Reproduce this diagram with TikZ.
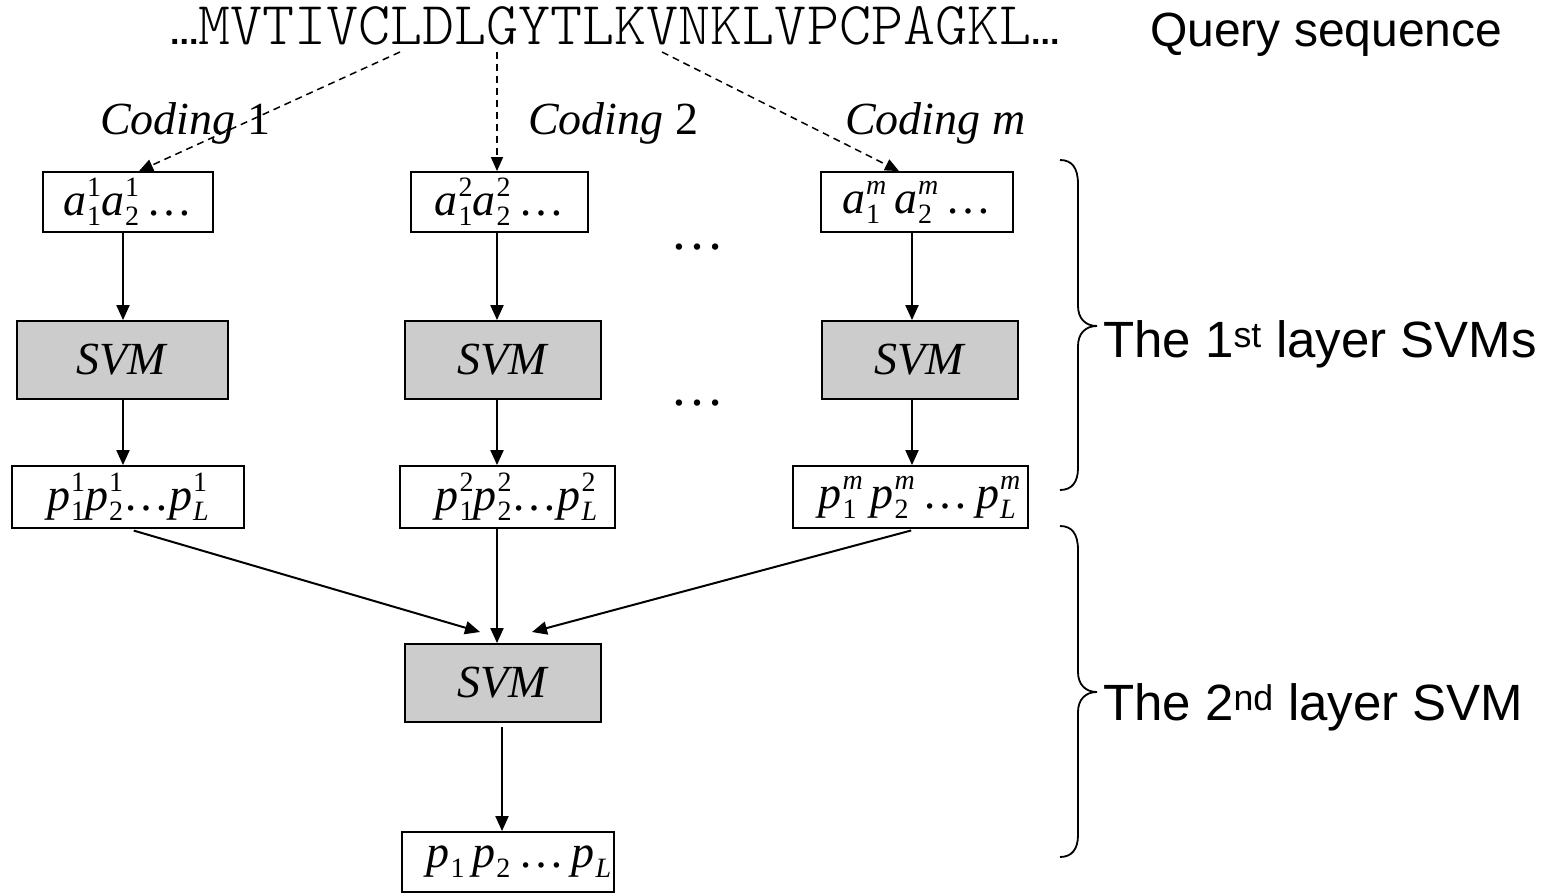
\documentclass[tikz,border=0pt]{standalone}
\usepackage{fontspec}
\setmainfont{Liberation Serif}
\setsansfont{Liberation Sans}
\newfontfamily\seqfont{lmmonolt10-regular.otf}
\usetikzlibrary{arrows.meta}
\definecolor{svmgray}{HTML}{CCCCCC}
\newcommand\tfs{\fontsize{46}{52}\selectfont}
\newcommand\scr{\fontsize{28}{28}\selectfont}
% letter with stacked subscript (#2) and superscript (#3)
\newcommand\ssb[3]{\textit{#1}\kern1pt\raisebox{-10pt}{\scr\vbox{\baselineskip=29pt\lineskiplimit=-20pt\hbox{#3}\hbox{#2}}}}
\newcommand\sbo[2]{\textit{#1}\kern1pt\raisebox{-10pt}{\scr #2}}
\newcommand\qdots{{\sffamily\bfseries\fontsize{34}{40}\selectfont ...}}
\begin{document}
\begin{tikzpicture}[x=1pt,y=-1pt,
  box/.style={draw, line width=1.8pt, inner sep=0pt, font=\tfs},
  svmbox/.style={box, fill=svmgray},
  arr/.style={line width=2pt, -{Triangle[length=15pt,width=13pt]}},
  darr/.style={line width=1.5pt, dash pattern=on 7pt off 5pt, -{Triangle[length=14pt,width=12pt]}},
  lbl/.style={font=\tfs, anchor=base west, inner sep=0pt},
  side/.style={font=\fontsize{51}{60}\selectfont\sffamily, anchor=base west, inner sep=0pt},
  brace/.style={line width=1.8pt},
]
\useasboundingbox (0,0) rectangle (1565,893);

% query sequence
\node[anchor=base west, inner sep=0pt] (seq) at (170,45)
  {\qdots{\seqfont\fontsize{61}{66}\selectfont MVTIVCLDLGYTLKVNKLVPCPAGKL}\qdots};
\node[anchor=base west, inner sep=0pt, font=\fontsize{48}{56}\selectfont\sffamily] (qs) at (1150,47) {Query sequence};

% coding labels
\node[lbl] (cod1) at (100,135) {\textit{Coding} 1};
\node[lbl] (cod2) at (528,135) {\textit{Coding} 2};
\node[lbl] (codm) at (845,135) {\textit{Coding m}};

% column x positions
\coordinate (c1) at (123,0);
\coordinate (c2) at (497,0);
\coordinate (c3) at (912,0);
\coordinate (cF) at (502,0);

% first row boxes
\node[box, minimum width=170, minimum height=60] (a1) at (128,202) {\ssb{a}{1}{1}\ssb{a}{2}{1}\,…};
\node[box, minimum width=177, minimum height=60] (a2) at (499.5,202) {\ssb{a}{1}{2}\ssb{a}{2}{2}\,…};
\node[box, minimum width=192, minimum height=60] (am) at (917,202) {\ssb{a}{1}{\textit{m}}\,\ssb{a}{2}{\textit{m}}\,…};

% SVM boxes
\node[svmbox, minimum width=211, minimum height=78] (S1) at (122.5,360) {\textit{SVM}};
\node[svmbox, minimum width=196, minimum height=78] (S2) at (503,360) {\textit{SVM}};
\node[svmbox, minimum width=196, minimum height=78] (S3) at (920,360) {\textit{SVM}};

% output boxes
\node[box, minimum width=232, minimum height=62] (p1) at (128,497) {\ssb{p}{1}{1}\ssb{p}{2}{1}…\ssb{p}{\textit{L}}{1}};
\node[box, minimum width=215, minimum height=62] (p2) at (507.5,497) {\hspace{18pt}\ssb{p}{1}{2}\ssb{p}{2}{2}…\ssb{p}{\textit{L}}{2}};
\node[box, minimum width=235, minimum height=62] (pm) at (910.5,497) {\hspace{18pt}\ssb{p}{1}{\textit{m}}\,\ssb{p}{2}{\textit{m}}\,…\,\ssb{p}{\textit{L}}{\textit{m}}};

% second layer
\node[svmbox, minimum width=196, minimum height=78] (SF) at (503,683) {\textit{SVM}};
\node[box, minimum width=212, minimum height=60] (pF) at (508,862) {\hspace{22pt}\sbo{p}{1}\,\sbo{p}{2}\,…\,\sbo{p}{\textit{L}}};

% ellipses between columns
\node[font=\fontsize{54}{60}\selectfont, inner sep=0pt, anchor=base] (e1) at (697,250) {…};
\node[font=\fontsize{54}{60}\selectfont, inner sep=0pt, anchor=base] (e2) at (697,405) {…};

% dashed arrows from the sequence
\coordinate (d1) at (400,52);
\coordinate (d2) at (497,52);
\coordinate (d3) at (662,52);
\draw[darr] (d1) -- (a1.north -| 139,0);
\draw[darr] (d2) -- (a2.north -| d2);
\draw[darr] (d3) -- (am.north -| 899,0);

% vertical arrows
\draw[arr] (a1.south -| c1) -- (S1.north -| c1);
\draw[arr] (a2.south -| c2) -- (S2.north -| c2);
\draw[arr] (am.south -| c3) -- (S3.north -| c3);
\draw[arr] (S1.south -| c1) -- (p1.north -| c1);
\draw[arr] (S2.south -| c2) -- (p2.north -| c2);
\draw[arr] (S3.south -| c3) -- (pm.north -| c3);

% into the 2nd layer
\coordinate (inL) at (480,632);
\coordinate (inR) at (532,632);
\draw[arr, shorten <=6pt] (p1.south) -- (inL);
\draw[arr] (p2.south -| c2) -- (SF.north -| c2);
\draw[arr, shorten <=6pt] (pm.south -| 917,0) -- (inR);
\draw[arr, shorten <=4pt] (SF.south -| cF) -- (pF.north -| cF);

% braces
\draw[brace] (1060,160) .. controls (1072,160) and (1078,168) .. (1078,184)
  -- (1078,306) .. controls (1078,318) and (1085,326) .. (1097,326)
  .. controls (1085,326) and (1078,334) .. (1078,346)
  -- (1078,468) .. controls (1078,482) and (1072,490) .. (1060,490);
\draw[brace] (1060,526) .. controls (1072,526) and (1078,534) .. (1078,550)
  -- (1078,672) .. controls (1078,684) and (1085,692) .. (1097,692)
  .. controls (1085,692) and (1078,700) .. (1078,712)
  -- (1078,835) .. controls (1078,849) and (1072,857) .. (1060,857);
\node[side] (l1) at (1103,357) {The 1\textsuperscript{st} layer SVMs};
\node[side] (l2) at (1103,720) {The 2\textsuperscript{nd} layer SVM};
\end{tikzpicture}
\end{document}
